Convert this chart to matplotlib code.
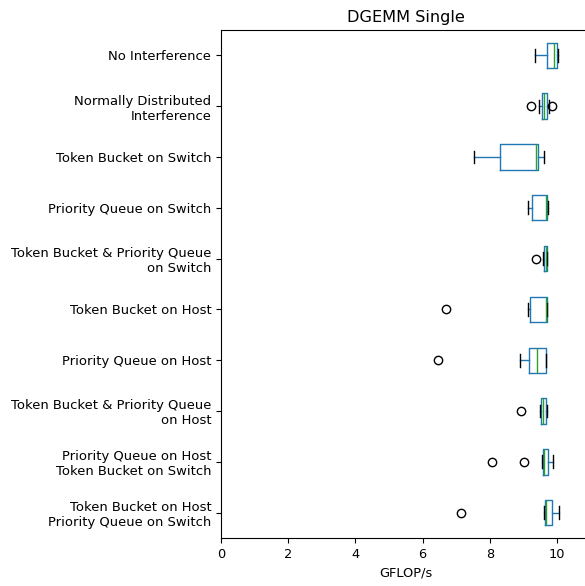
import matplotlib
matplotlib.use("Agg")
import matplotlib.pyplot as plt

# Scenarios, listed from top to bottom of the chart
labels = [
    "No Interference",
    "Normally Distributed\nInterference",
    "Token Bucket on Switch",
    "Priority Queue on Switch",
    "Token Bucket & Priority Queue\non Switch",
    "Token Bucket on Host",
    "Priority Queue on Host",
    "Token Bucket & Priority Queue\non Host",
    "Priority Queue on Host\nToken Bucket on Switch",
    "Token Bucket on Host\nPriority Queue on Switch",
]

# Five-number summaries (GFLOP/s) per scenario
whis_lo = [9.34, 9.47, 7.54, 9.15, 9.57, 9.15, 8.90, 9.49, 9.56, 9.61]
q1      = [9.69, 9.56, 8.29, 9.25, 9.60, 9.20, 9.17, 9.52, 9.57, 9.65]
median  = [9.92, 9.62, 9.38, 9.68, 9.66, 9.67, 9.40, 9.59, 9.61, 9.67]
q3      = [10.01, 9.69, 9.44, 9.69, 9.69, 9.69, 9.66, 9.67, 9.72, 9.85]
whis_hi = [10.04, 9.75, 9.61, 9.72, 9.69, 9.69, 9.68, 9.69, 9.88, 10.07]
outliers = [
    [],
    [9.23, 9.84],
    [],
    [],
    [9.37],
    [6.70],
    [6.46],
    [8.93],
    [8.06, 9.01],
    [7.14],
]

stats = []
for i, lab in enumerate(labels):
    stats.append(dict(label=lab, whislo=whis_lo[i], q1=q1[i], med=median[i],
                      q3=q3[i], whishi=whis_hi[i], fliers=outliers[i]))

# bottom-to-top drawing order so the first scenario appears at the top
stats_rev = stats[::-1]

W, H = 585, 586
fig = plt.figure(figsize=(W / 100, H / 100), dpi=100)
left_px, right_px, top_px, bottom_px = 221, 590.6, 30, 538
ax = fig.add_axes([left_px / W, 1 - bottom_px / H,
                   (right_px - left_px) / W, (bottom_px - top_px) / H])

blue = "#1f77b4"
ax.bxp(stats_rev, vert=False, widths=0.5,
       boxprops=dict(color=blue),
       whiskerprops=dict(color=blue),
       medianprops=dict(color="#2ca02c"),
       capprops=dict(color="k"),
       flierprops=dict(marker="o", markeredgecolor="k", markerfacecolor="none",
                       markersize=6))

ax.set_xlim(0, 11)
ax.set_ylim(0.5, len(labels) + 0.5)
ax.set_xticks([0, 2, 4, 6, 8, 10])
ax.tick_params(axis="y", labelsize=9.45)
ax.tick_params(axis="x", labelsize=9.3)
for lab in ax.get_yticklabels():
    lab.set_horizontalalignment("right")
ax.set_xlabel("GFLOP/s", fontsize=9.3)
ax.set_title("DGEMM Single", fontsize=11.6)

fig.savefig("out.png", dpi=100)
